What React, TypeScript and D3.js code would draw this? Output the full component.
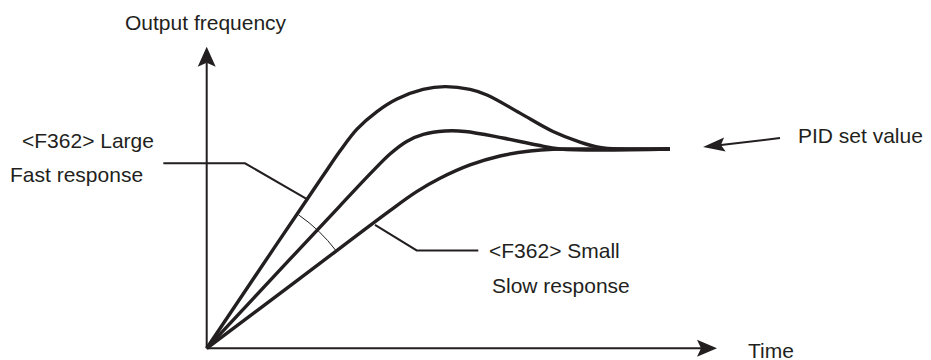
import React from "react";
import * as d3 from "d3";

// ---- data (time units, output relative to PID set value = 1) ----
const fastTime = [0, 1.044, 1.965, 2.299, 2.612, 2.945, 3.337, 3.729, 4.239, 4.67, 5.16, 5.493, 6.14, 6.786, 7.315, 7.707, 8.099];
const fastValue = [0, 0.398, 0.747, 0.873, 0.99, 1.1, 1.188, 1.251, 1.299, 1.313, 1.299, 1.271, 1.18, 1.088, 1.035, 1.008, 1.0];

const midTime = [0, 1.632, 2.612, 3.239, 3.592, 3.919, 4.245, 4.67, 5.062, 5.806, 6.473, 6.924];
const midValue = [0, 0.447, 0.715, 0.885, 0.975, 1.038, 1.073, 1.09, 1.088, 1.055, 1.02, 1.0];

const slowTime = [0, 1.828, 3.592, 4.115, 4.572, 5.16, 5.748, 6.336, 6.786, 7.217];
const slowValue = [0, 0.351, 0.691, 0.786, 0.853, 0.92, 0.965, 0.99, 0.999, 1.0];

const setValue = 1.0;
const setLineEndTime = 9.078;

const xAxisMax = 10;
const yAxisMax = 1.513;

// leader lines (data units)
const largeLeaderTime = [-0.85, 0.751, 1.965];
const largeLeaderValue = [0.928, 0.928, 0.749];
const smallLeaderTime = [3.298, 4.115, 5.322];
const smallLeaderValue = [0.619, 0.491, 0.491];

// PID set value pointer (data units)
const pidArrowTime = [11.235, 9.726];
const pidArrowValue = [1.055, 1.01];

const labels = {
  yTitle: "Output frequency",
  xTitle: "Time",
  large1: "<F362> Large",
  large2: "Fast response",
  small1: "<F362> Small",
  small2: "Slow response",
  pid: "PID set value",
};

const W = 931;
const H = 360;
const INK = "#231f20";
const FONT = "'Liberation Sans', Arial, Helvetica, sans-serif";

function arrowHead(tipX: number, tipY: number, fromX: number, fromY: number, len: number, halfW: number, notch: number) {
  const dx = tipX - fromX;
  const dy = tipY - fromY;
  const d = Math.hypot(dx, dy);
  const ux = dx / d;
  const uy = dy / d;
  const px = -uy;
  const py = ux;
  const bx = tipX - ux * len;
  const by = tipY - uy * len;
  const nx = tipX - ux * (len - notch);
  const ny = tipY - uy * (len - notch);
  return `M${tipX},${tipY}L${bx + px * halfW},${by + py * halfW}L${nx},${ny}L${bx - px * halfW},${by - py * halfW}Z`;
}

function backOff(tipX: number, tipY: number, fromX: number, fromY: number, dist: number) {
  const dx = tipX - fromX;
  const dy = tipY - fromY;
  const d = Math.hypot(dx, dy);
  return [tipX - (dx / d) * dist, tipY - (dy / d) * dist];
}

export default function App() {
  const x = d3.scaleLinear().domain([0, 10]).range([206.7, 717]);
  const y = d3.scaleLinear().domain([0, 1]).range([348.3, 149]);

  const line = d3
    .line<[number, number]>()
    .x((d) => x(d[0]))
    .y((d) => y(d[1]))
    .curve(d3.curveCatmullRom.alpha(0.5));

  const straight = d3
    .line<[number, number]>()
    .x((d) => x(d[0]))
    .y((d) => y(d[1]));

  const series = [
    [fastTime, fastValue],
    [midTime, midValue],
    [slowTime, slowValue],
  ].map(([t, v]) => {
    const pts: [number, number][] = t.map((ti, i) => [ti, v[i]]);
    pts.push([setLineEndTime, setValue]);
    return pts;
  });

  const ox = x(0);
  const oy = y(0);

  // angle arc between fast and slow curves
  const r = 162;
  const a0 = (-55.5 * Math.PI) / 180;
  const a1 = (-37 * Math.PI) / 180;
  const arcPath = d3.path();
  arcPath.moveTo(ox + r * Math.cos(a0), oy + r * Math.sin(a0));
  arcPath.arc(ox, oy, r, a0, a1, false);

  const yTop = y(yAxisMax);
  const xRight = x(xAxisMax);

  const largeLeader: [number, number][] = largeLeaderTime.map((t, i) => [t, largeLeaderValue[i]]);
  const smallLeader: [number, number][] = smallLeaderTime.map((t, i) => [t, smallLeaderValue[i]]);

  const pidTail = [x(pidArrowTime[0]), y(pidArrowValue[0])];
  const pidTip = [x(pidArrowTime[1]), y(pidArrowValue[1])];
  const pidBase = backOff(pidTip[0], pidTip[1], pidTail[0], pidTail[1], 16);

  const textStyle = { fontFamily: FONT, fontSize: 21, fill: INK } as const;

  return (
    <svg width={W} height={H} style={{ position: "absolute", left: 0, top: 0, background: "#fff" }}>
      <rect width={W} height={H} fill="#fff" />
      {/* axes */}
      <line x1={ox} y1={oy} x2={ox} y2={yTop + 16} stroke={INK} strokeWidth={2} />
      <path d={arrowHead(ox, yTop, ox, oy, 20, 9, 4)} fill={INK} />
      <line x1={ox} y1={oy} x2={xRight - 16} y2={oy} stroke={INK} strokeWidth={2} />
      <path d={arrowHead(xRight, oy, ox, oy, 20, 8.5, 4)} fill={INK} />

      {/* leader lines */}
      <path d={straight(largeLeader) || ""} fill="none" stroke={INK} strokeWidth={2} />
      <path d={straight(smallLeader) || ""} fill="none" stroke={INK} strokeWidth={2} />

      {/* angle arc */}
      <path d={arcPath.toString()} fill="none" stroke={INK} strokeWidth={1} />

      {/* response curves */}
      {series.map((pts, i) => (
        <path key={i} d={line(pts) || ""} fill="none" stroke={INK} strokeWidth={3.4} strokeLinecap="butt" strokeLinejoin="round" />
      ))}

      {/* PID arrow */}
      <line x1={pidTail[0]} y1={pidTail[1]} x2={pidBase[0]} y2={pidBase[1]} stroke={INK} strokeWidth={2} />
      <path d={arrowHead(pidTip[0], pidTip[1], pidTail[0], pidTail[1], 22, 7, 4)} fill={INK} />

      {/* text */}
      <text x={125} y={30} style={textStyle}>{labels.yTitle}</text>
      <text x={748} y={358} style={textStyle}>{labels.xTitle}</text>
      <text x={22} y={148} style={textStyle}>{labels.large1}</text>
      <text x={10} y={182} style={textStyle}>{labels.large2}</text>
      <text x={489} y={258} style={textStyle}>{labels.small1}</text>
      <text x={492} y={293} style={textStyle}>{labels.small2}</text>
      <text x={798} y={143} style={textStyle}>{labels.pid}</text>
    </svg>
  );
}
